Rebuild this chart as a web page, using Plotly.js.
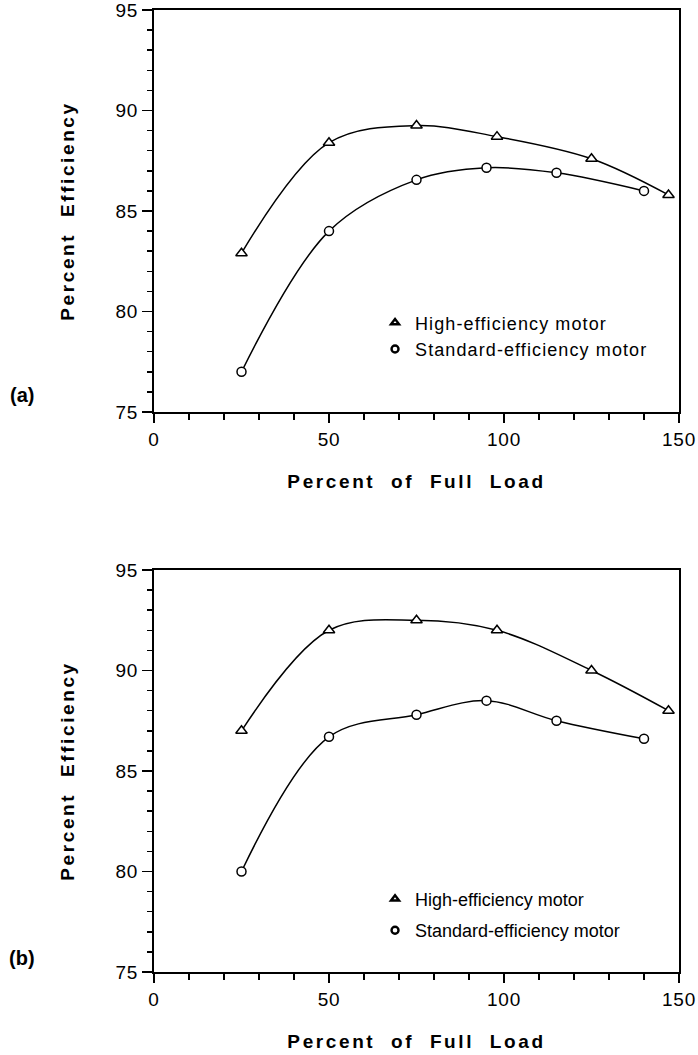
<!DOCTYPE html>
<html>
<head>
<meta charset="utf-8">
<script src="https://cdn.plot.ly/plotly-3.0.1.min.js"></script>
<style>
  body { margin: 0; background: #fff; }
  .xtitle, .x2title, .ytitle, .y2title { letter-spacing: 2.6px; }
  .legendtext { letter-spacing: 1.1px; }
  .xtick text, .ytick text, .x2tick text, .y2tick text { letter-spacing: 0.8px; }
</style>
</head>
<body>
<div id="chart" style="width:698px;height:1055px;"></div>
<script>
// ----- data -----
const loadHighA = [25, 50, 75, 98, 125, 147];
const effHighA  = [82.9, 88.4, 89.25, 88.7, 87.6, 85.8];
const loadStdA  = [25, 50, 75, 95, 115, 140];
const effStdA   = [77.0, 84.0, 86.55, 87.15, 86.9, 86.0];

const loadHighB = [25, 50, 75, 98, 125, 147];
const effHighB  = [87.0, 92.0, 92.5, 92.0, 90.0, 88.0];
const loadStdB  = [25, 50, 75, 95, 115, 140];
const effStdB   = [80.0, 86.7, 87.8, 88.5, 87.5, 86.6];

const seriesNames = ['High-efficiency motor', 'Standard-efficiency motor'];
const panelLabels = ['(a)', '(b)'];
const xTitle = 'Percent&nbsp; of&nbsp; Full&nbsp; Load';
const yTitle = 'Percent&nbsp; Efficiency';

const FONT = 'Liberation Sans, Arial, Helvetica, sans-serif';

function curve(x, y, sym, size, xa, ya) {
  return {
    x: x, y: y, xaxis: xa, yaxis: ya, type: 'scatter', mode: 'lines+markers',
    line: { shape: 'spline', smoothing: 1, color: '#000', width: 1.5 },
    marker: { symbol: sym, size: size, color: '#fff', line: { color: '#000', width: 1.5 } },
    showlegend: false, hoverinfo: 'skip'
  };
}
function legendItem(name, sym, legendId, group, xa, ya) {
  return {
    x: [null], y: [null], xaxis: xa, yaxis: ya, type: 'scatter', mode: 'markers',
    name: name, legend: legendId, legendgroup: group,
    marker: { symbol: sym, size: 7, color: '#fff', line: { color: '#000', width: 2.4 } },
    showlegend: true
  };
}

const data = [
  curve(loadHighA, effHighA, 'triangle-up', 10, 'x', 'y'),
  curve(loadStdA, effStdA, 'circle', 9, 'x', 'y'),
  curve(loadHighB, effHighB, 'triangle-up', 10, 'x2', 'y2'),
  curve(loadStdB, effStdB, 'circle', 9, 'x2', 'y2'),
  legendItem(seriesNames[0], 'triangle-up', 'legend', 'a1', 'x', 'y'),
  legendItem(seriesNames[1], 'circle', 'legend', 'a2', 'x', 'y'),
  legendItem(seriesNames[0], 'triangle-up', 'legend2', 'b1', 'x2', 'y2'),
  legendItem(seriesNames[1], 'circle', 'legend2', 'b2', 'x2', 'y2')
];

function xAxis(anchor) {
  return {
    anchor: anchor, domain: [0, 1], range: [0, 150], dtick: 50, tick0: 0,
    ticks: 'outside', ticklen: 9, tickwidth: 1.5, tickcolor: '#000',
    minor: { dtick: 10, ticks: 'outside', ticklen: 6, tickwidth: 1.5, tickcolor: '#000' },
    showline: true, linewidth: 2, linecolor: '#000', mirror: true,
    showgrid: false, zeroline: false, ticklabeloverflow: 'allow',
    tickfont: { family: FONT, size: 19, color: '#000' },
    title: { text: xTitle, standoff: 26, font: { family: FONT, size: 19, color: '#000', weight: 'bold' } }
  };
}
function yAxis(anchor, domain) {
  return {
    anchor: anchor, domain: domain, range: [75, 95], dtick: 5, tick0: 75,
    ticks: 'outside', ticklen: 10, tickwidth: 1.5, tickcolor: '#000',
    minor: { dtick: 1, ticks: 'outside', ticklen: 5, tickwidth: 1.5, tickcolor: '#000' },
    showline: true, linewidth: 2, linecolor: '#000', mirror: true,
    showgrid: false, zeroline: false, ticklabeloverflow: 'allow',
    tickfont: { family: FONT, size: 19, color: '#000' },
    title: { text: yTitle, standoff: 36, font: { family: FONT, size: 19, color: '#000', weight: 'bold' } }
  };
}

const legendCommon = {
  xanchor: 'left', yanchor: 'top', bgcolor: 'rgba(0,0,0,0)',
  font: { family: FONT, size: 18, color: '#000' },
  itemwidth: 30, borderwidth: 0
};

const layout = {
  width: 698, height: 1055,
  margin: { l: 154, r: 19, t: 10, b: 83 },
  paper_bgcolor: '#fff', plot_bgcolor: '#fff',
  showlegend: true,
  xaxis: xAxis('y'),
  yaxis: yAxis('x', [0.5821, 1]),
  xaxis2: xAxis('y2'),
  yaxis2: yAxis('x2', [0, 0.4179]),
  legend: Object.assign({ x: 0.421, y: 0.694, tracegroupgap: 0 }, legendCommon),
  legend2: Object.assign({ x: 0.421, y: 0.095, tracegroupgap: 5 }, legendCommon),
  annotations: [
    { text: '<b>' + panelLabels[0] + '</b>', xref: 'paper', yref: 'paper', x: -0.251, y: 0.5998,
      xanchor: 'center', yanchor: 'middle', showarrow: false, font: { family: FONT, size: 20, color: '#000' } },
    { text: '<b>' + panelLabels[1] + '</b>', xref: 'paper', yref: 'paper', x: -0.251, y: 0.0146,
      xanchor: 'center', yanchor: 'middle', showarrow: false, font: { family: FONT, size: 20, color: '#000' } }
  ]
};

Plotly.newPlot('chart', data, layout, { staticPlot: true, displayModeBar: false });
</script>
</body>
</html>
